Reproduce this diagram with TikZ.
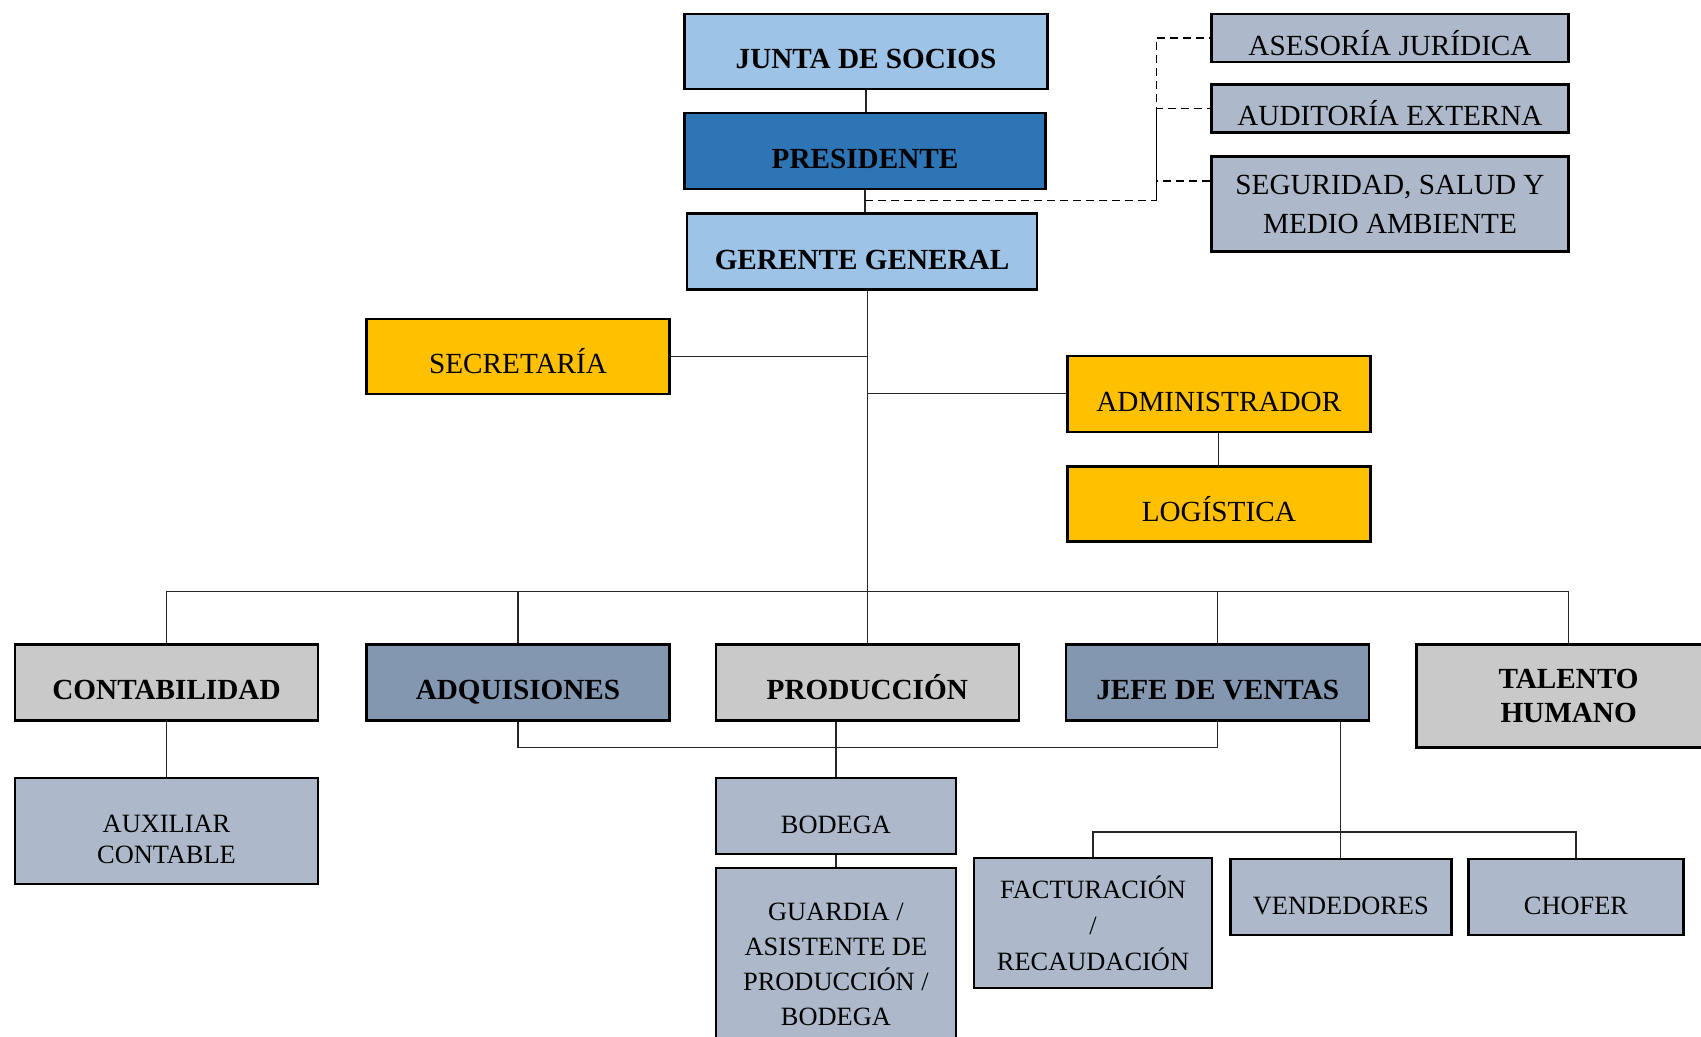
\documentclass[tikz,border=0pt]{standalone}
\usepackage{fontspec}
\setmainfont{Liberation Serif}
\definecolor{celeste}{RGB}{157,195,230}
\definecolor{azul}{RGB}{46,117,182}
\definecolor{plomo}{RGB}{173,185,202}
\definecolor{naranja}{RGB}{255,192,0}
\definecolor{gris}{RGB}{201,201,201}
\definecolor{azulgris}{RGB}{132,151,176}
\tikzset{
  every node/.style = {
    rectangle,
    draw,
    line width=1.2pt,
    inner sep=0pt,
    align=center
  },
  grande/.style = {font=\fontsize{14.6}{19.5}\selectfont},
  chico/.style = {font=\fontsize{13.2}{17.5}\selectfont},
  negrita/.style = {font=\fontsize{14.6}{16.8}\selectfont\bfseries},
  una/.style = {text height=17.5pt, text depth=0pt},   % single line, text sits a bit low
  wh/.style 2 args = {minimum width=#1, minimum height=#2},
  celeste/.append style = {fill = celeste},
  azul/.append style = {fill = azul},
  plomo/.append style = {fill = plomo},
  naranja/.append style = {fill = naranja},
  gris/.append style = {fill = gris},
  azulgris/.append style = {fill = azulgris},
  linea/.style = {line width=0.6pt, draw=black!85},
  guion/.style = {line width=0.7pt, draw=black, dash pattern=on 4pt off 2.5pt}
}

\begin{document}
\begin{tikzpicture}[x=0.5pt, y=-0.5pt]

  \useasboundingbox (0,0) rectangle (1701,1037);

  %% nodes
  \node[celeste, negrita, una, wh={181.5pt}{37.5pt}] (JS) at (866,51.5) {JUNTA DE SOCIOS};
  \node[azul, negrita, una, wh={180.5pt}{38pt}] (PR) at (865,151) {PRESIDENTE};
  \node[celeste, negrita, una, wh={175pt}{38pt}] (GG) at (862,251.7) {GERENTE GENERAL};

  \node[plomo, grande, una, wh={178.5pt}{24pt}] (AJ) at (1390,38) {ASESORÍA JURÍDICA};
  \node[plomo, grande, una, wh={178.5pt}{24pt}] (AE) at (1390,108.5) {AUDITORÍA EXTERNA};
  \node[plomo, grande, wh={178.5pt}{47.5pt}] (SS) at (1390,204) {SEGURIDAD, SALUD Y\\MEDIO AMBIENTE};

  \node[naranja, grande, una, wh={151.5pt}{37.5pt}] (SE) at (518,356.4) {SECRETARÍA};
  \node[naranja, grande, una, wh={151.5pt}{38pt}] (AD) at (1218.8,393.8) {ADMINISTRADOR};
  \node[naranja, grande, una, wh={151.5pt}{37.5pt}] (LO) at (1218.8,504) {LOGÍSTICA};

  \node[gris, negrita, una, wh={151.5pt}{38pt}] (CO) at (166.5,682.3) {CONTABILIDAD};
  \node[azulgris, negrita, una, wh={151.5pt}{38pt}] (AQ) at (518,682.3) {ADQUISIONES};
  \node[gris, negrita, una, wh={151.5pt}{38pt}] (PD) at (867.3,682.3) {PRODUCCIÓN};
  \node[azulgris, negrita, una, wh={151.5pt}{38pt}] (JV) at (1217.7,682.3) {JEFE DE VENTAS};
  \node[gris, negrita, wh={152pt}{51.5pt}] (TH) at (1568.6,695.9) {TALENTO\\HUMANO};

  \node[plomo, chico, font=\fontsize{13.2}{15.75}\selectfont, wh={151.5pt}{53pt}] (AC) at (166.5,831) {\rule{0pt}{17pt}AUXILIAR\\CONTABLE};
  \node[plomo, chico, una, wh={120pt}{38pt}] (BO) at (835.9,815.8) {BODEGA};
  \node[plomo, chico, wh={120pt}{97pt}] (GA) at (835.9,964.8) {GUARDIA /\\ASISTENTE DE\\PRODUCCIÓN /\\BODEGA};

  \node[plomo, chico, font=\fontsize{13.2}{17.9}\selectfont, wh={118.75pt}{65pt}] (FR) at (1093,923) {FACTURACIÓN\\/\\RECAUDACIÓN};
  \node[plomo, chico, una, wh={110.5pt}{38pt}] (VE) at (1340.8,897.2) {VENDEDORES};
  \node[plomo, chico, una, wh={107.5pt}{38pt}] (CH) at (1576,897.2) {CHOFER};

  %% helper points
  \coordinate (dj) at (1156.4,200.7);
  \coordinate (bus) at (0,591.2);
  \coordinate (br) at (0,747.4);
  \coordinate (vb) at (0,832);

  %% lines
  \draw[linea] (JS.south) -- (JS.south |- PR.north);
  \draw[linea] (PR.south) -- (PR.south |- GG.north);
  \draw[linea] (PD.north) -- (PD.north |- GG.south);

  \draw[guion] (PR.south |- dj) -- (dj) |- (AJ.west);
  \draw[guion] (dj) |- (AE.west);
  \draw[guion] (dj) |- ([yshift=11.5pt]SS.west);

  \draw[linea] (SE.east) -- (SE.east -| PD.north);
  \draw[linea] (AD.west) -- (AD.west -| PD.north);
  \draw[linea] (AD) -- (LO);

  \draw[linea] (CO.north) -- (CO.north |- bus) -- (TH.north |- bus) -- (TH.north);
  \draw[linea] (AQ.north) -- (AQ.north |- bus);
  \draw[linea] (JV.north) -- (JV.north |- bus);

  \draw[linea] (CO) -- (AC);
  \draw[linea] (AQ.south) -- (AQ.south |- br) -- (JV.south |- br) -- (JV.south);
  \draw[linea] (BO.north) -- (BO.north |- PD.south);
  \draw[linea] (BO) -- (GA);

  \draw[linea] (VE.north) -- (VE.north |- JV.south);
  \draw[linea] (FR.north) -- (FR.north |- vb) -- (CH.north |- vb) -- (CH.north);

\end{tikzpicture}
\end{document}
